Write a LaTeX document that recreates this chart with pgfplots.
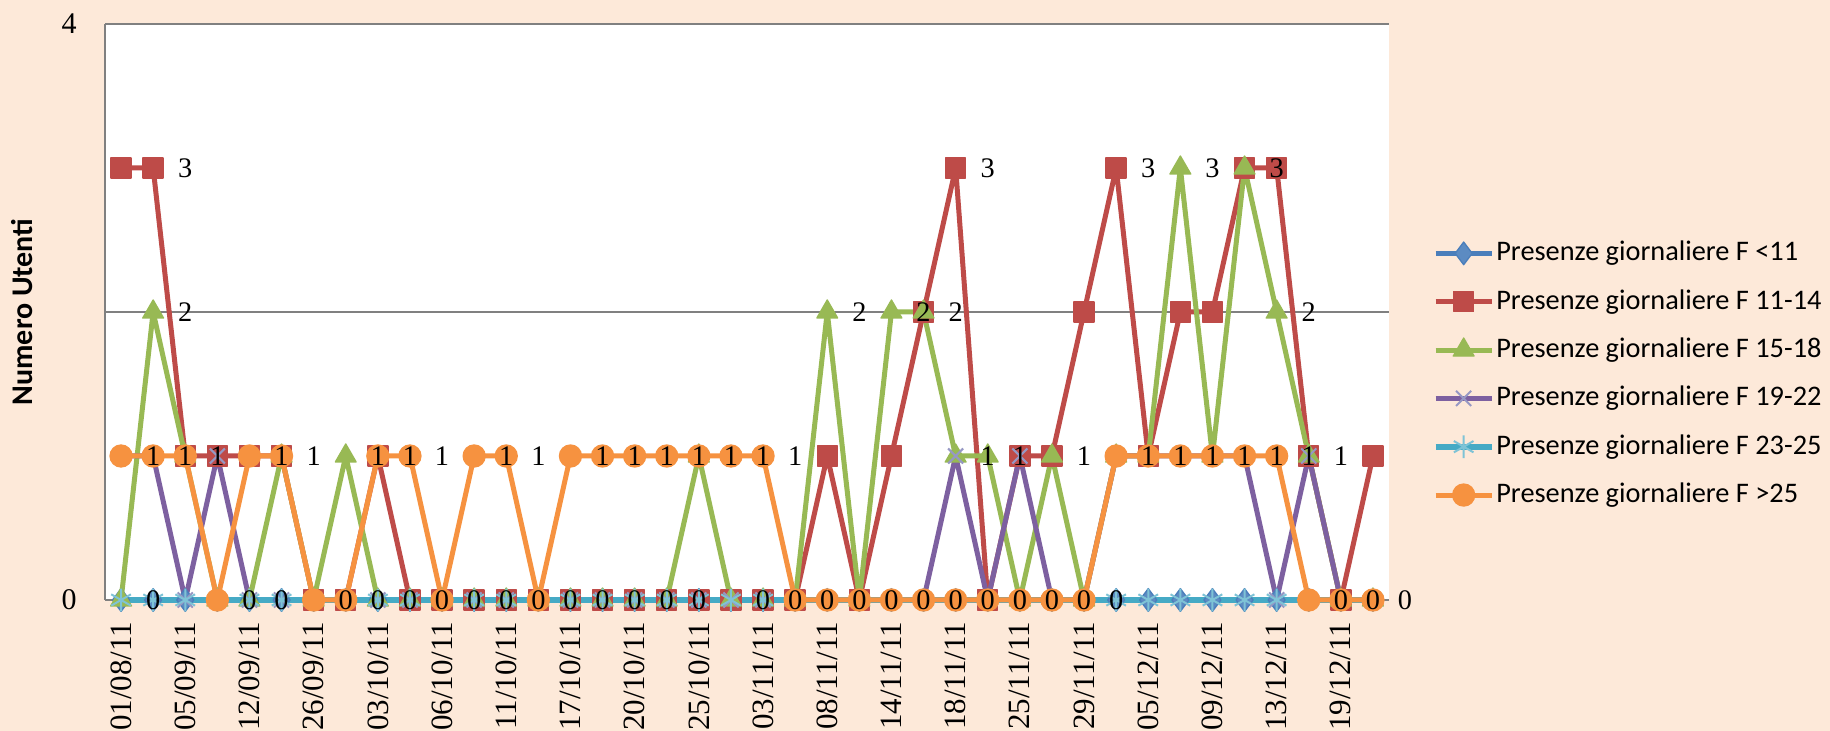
\documentclass[border=0pt]{standalone}
\usepackage{fontspec}
\setmainfont{Liberation Serif}
\newfontfamily\carlito{Carlito}
\usepackage{pgfplots}
\usepackage{pgfplotstable}
\pgfplotsset{compat=1.18}

\definecolor{bg}{HTML}{FDE9D9}
\definecolor{cblue}{HTML}{4A7EBB}
\definecolor{cred}{HTML}{BE4B48}
\definecolor{cgreen}{HTML}{98B954}
\definecolor{cpurple}{HTML}{7D60A0}
\definecolor{cteal}{HTML}{46AAC5}
\definecolor{corange}{HTML}{F69240}

% presenze giornaliere per fascia d'eta (indice = data)
\pgfplotstableread{
x blue red green purple teal orange
0 0 3 0 1 0 1
1 0 3 2 1 0 1
2 0 1 1 0 0 1
3 0 1 0 1 0 0
4 0 1 0 0 0 1
5 0 1 1 0 0 1
6 0 0 0 0 0 0
7 0 0 1 0 0 0
8 0 1 0 0 0 1
9 0 0 0 0 0 1
10 0 0 0 0 0 0
11 0 0 0 0 0 1
12 0 0 0 0 0 1
13 0 0 0 0 0 0
14 0 0 0 0 0 1
15 0 0 0 0 0 1
16 0 0 0 0 0 1
17 0 0 0 0 0 1
18 0 0 1 0 0 1
19 0 0 0 0 0 1
20 0 0 0 0 0 1
21 0 0 0 0 0 0
22 0 1 2 0 0 0
23 0 0 0 0 0 0
24 0 1 2 0 0 0
25 0 2 2 0 0 0
26 0 3 1 1 0 0
27 0 0 1 0 0 0
28 0 1 0 1 0 0
29 0 1 1 0 0 0
30 0 2 0 0 0 0
31 0 3 1 1 0 1
32 0 1 1 1 0 1
33 0 2 3 1 0 1
34 0 2 1 1 0 1
35 0 3 3 1 0 1
36 0 3 2 0 0 1
37 0 1 1 1 0 0
38 0 0 0 0 0 0
39 0 1 0 0 0 0
}\presenze

% etichette dati come appaiono nel grafico
\pgfplotstableread{
x y
2 3
27 3
32 3
34 3
36 3
2 2
23 2
25 2
26 2
37 2
1 1
2 1
3 1
5 1
6 1
8 1
9 1
10 1
12 1
13 1
15 1
16 1
17 1
18 1
19 1
20 1
21 1
27 1
28 1
30 1
32 1
33 1
34 1
35 1
36 1
37 1
38 1
1 0
4 0
5 0
7 0
8 0
9 0
10 0
11 0
12 0
13 0
14 0
15 0
16 0
17 0
18 0
20 0
21 0
22 0
23 0
24 0
25 0
26 0
27 0
28 0
29 0
30 0
31 0
38 0
39 0
40 0
}\etichette

\begin{document}
\begin{tikzpicture}
\fill[bg] (0,0) rectangle (549pt,219.3pt);
\path[use as bounding box] (0,0) rectangle (549pt,219.3pt);
\begin{axis}[
    at={(31.5pt,39.3pt)}, anchor=south west,
    scale only axis, width=385.2pt, height=172.8pt,
    xmin=-0.5, xmax=39.5, ymin=0, ymax=4,
    clip=false,
    axis background/.style={fill=white},
    axis lines*=left, axis line style={-},
    x axis line style={draw=none},
    y axis line style={draw=gray, line width=0.6pt},
    ymajorgrids, grid style={draw=gray, line width=0.6pt},
    major tick length=0pt,
    /pgf/number format/assume math mode=true,
    ytick={0,2,4}, yticklabels={0,,4},
    yticklabel style={font=\fontsize{9}{10}\selectfont},
    yticklabel shift=5pt,
    xtick={0,2,...,38},
    xticklabels={01/08/11,05/09/11,12/09/11,26/09/11,03/10/11,06/10/11,11/10/11,17/10/11,20/10/11,25/10/11,03/11/11,08/11/11,14/11/11,18/11/11,25/11/11,29/11/11,05/12/11,09/12/11,13/12/11,19/12/11},
    xticklabel style={rotate=90, anchor=east, font=\fontsize{9.3}{10}\selectfont},
    xticklabel shift=3pt,
    ylabel={Numero Utenti},
    ylabel style={at={(axis description cs:-0.0646,0.5)}, anchor=center, font=\carlito\bfseries\fontsize{9}{10}\selectfont},
    legend cell align=left,
    legend style={at={(axis description cs:1.0335,0.392)}, anchor=west, draw=none, fill=none,
        inner sep=0pt, row sep=5pt, font=\carlito\fontsize{8.5}{10}\selectfont,
        nodes={inner sep=0.5pt, text height=6.5pt, text depth=2pt},
        /tikz/every even column/.append style={column sep=1.5pt}},
    legend image code/.code={\draw[mark repeat=2, mark phase=2] plot coordinates {(0pt,0pt) (8.4pt,0pt) (16.8pt,0pt)};},
    every axis plot/.append style={line width=1.5pt, line join=round},
]
\addplot[cblue, mark=diamond*, mark size=3.4pt, mark options={fill=cblue!90!white, draw=cblue, line width=0.4pt}] table[x=x, y=blue] {\presenze};
\addlegendentry{Presenze giornaliere F <11}
\addplot[cred, mark=square*, mark size=3pt, mark options={fill=cred, draw=cred, line width=0.4pt}] table[x=x, y=red] {\presenze};
\addlegendentry{Presenze giornaliere F 11-14}
\addplot[cgreen, mark=triangle*, mark size=3.6pt, mark options={fill=cgreen, draw=cgreen, line width=0.4pt}] table[x=x, y=green] {\presenze};
\addlegendentry{Presenze giornaliere F 15-18}
\addplot[cpurple, mark=x, mark size=3.2pt, mark options={draw=cpurple!60!cblue!70!white, line width=0.6pt}] table[x=x, y=purple] {\presenze};
\addlegendentry{Presenze giornaliere F 19-22}
\addplot[cteal, line width=1.8pt, mark=asterisk, mark size=3.4pt, mark options={draw=cteal!70!white, line width=0.6pt}] table[x=x, y=teal] {\presenze};
\addlegendentry{Presenze giornaliere F 23-25}
\addplot[corange, mark=*, mark size=3.3pt, mark options={fill=corange, draw=corange, line width=0.4pt}] table[x=x, y=orange] {\presenze};
\addlegendentry{Presenze giornaliere F >25}
\addplot[draw=none, forget plot, nodes near coords, point meta=y,
    every node near coord/.append style={anchor=center, inner sep=0pt, text=black, font=\fontsize{8.5}{9}\selectfont}]
    table[x=x, y=y] {\etichette};
\end{axis}
\end{tikzpicture}
\end{document}
